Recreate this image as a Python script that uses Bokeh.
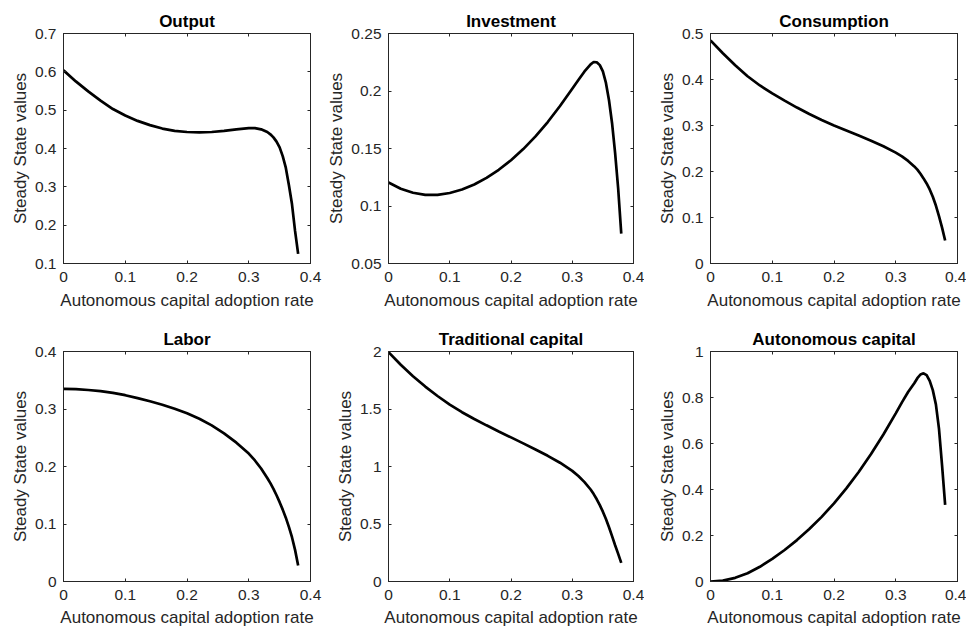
from bokeh.plotting import figure
from bokeh.layouts import row, column
from bokeh.models import Range1d, FixedTicker, LinearAxis, NumeralTickFormatter
from bokeh.embed import file_html
from bokeh.resources import INLINE

# Steady-state values against the autonomous capital adoption rate
adoption = [0.00, 0.02, 0.04, 0.06, 0.08, 0.10, 0.12, 0.14, 0.16, 0.18,
            0.20, 0.22, 0.24, 0.26, 0.28, 0.30, 0.31, 0.32, 0.33, 0.335,
            0.34, 0.345, 0.35, 0.355, 0.36, 0.365, 0.37, 0.375, 0.38]

output = [0.604, 0.575, 0.549, 0.525, 0.503, 0.486, 0.472, 0.461, 0.452, 0.446,
          0.443, 0.442, 0.443, 0.446, 0.450, 0.453, 0.453, 0.450, 0.443, 0.437,
          0.429, 0.418, 0.403, 0.380, 0.350, 0.305, 0.255, 0.185, 0.125]

investment = [0.1205, 0.1150, 0.1115, 0.1097, 0.1097, 0.1113, 0.1143, 0.1187, 0.1245, 0.1315,
              0.1398, 0.1495, 0.1605, 0.1730, 0.1870, 0.2020, 0.2095, 0.2170, 0.2232, 0.2252,
              0.2250, 0.2225, 0.2170, 0.2070, 0.1920, 0.1720, 0.1460, 0.1150, 0.0760]

consumption = [0.485, 0.457, 0.431, 0.407, 0.387, 0.370, 0.354, 0.339, 0.325, 0.312,
               0.300, 0.289, 0.278, 0.267, 0.255, 0.241, 0.233, 0.223, 0.211, 0.204,
               0.195, 0.185, 0.174, 0.161, 0.145, 0.126, 0.103, 0.078, 0.050]

labor = [0.335, 0.3345, 0.333, 0.331, 0.328, 0.324, 0.319, 0.3135, 0.3075, 0.3005,
         0.2925, 0.2830, 0.2715, 0.2575, 0.2415, 0.2225, 0.2105, 0.1965, 0.1800, 0.1710,
         0.1610, 0.1500, 0.1380, 0.1250, 0.1110, 0.0950, 0.0770, 0.0550, 0.0280]

traditional_capital = [1.995, 1.885, 1.785, 1.695, 1.613, 1.538, 1.472, 1.413, 1.358, 1.305,
                       1.253, 1.201, 1.148, 1.093, 1.033, 0.962, 0.917, 0.864, 0.800, 0.760,
                       0.715, 0.664, 0.607, 0.543, 0.472, 0.395, 0.315, 0.240, 0.162]

autonomous_capital = [0.000, 0.004, 0.016, 0.036, 0.064, 0.098, 0.137, 0.180, 0.228, 0.281,
                      0.340, 0.405, 0.476, 0.554, 0.639, 0.731, 0.779, 0.824, 0.862, 0.884,
                      0.900, 0.905, 0.897, 0.872, 0.832, 0.770, 0.665, 0.505, 0.333]

titles = ["Output", "Investment", "Consumption",
          "Labor", "Traditional capital", "Autonomous capital"]
series = [output, investment, consumption, labor, traditional_capital, autonomous_capital]

x_ticks = [0, 0.1, 0.2, 0.3, 0.4]
y_limits = [(0.1, 0.7), (0.05, 0.25), (0, 0.5), (0, 0.4), (0, 2), (0, 1)]
y_ticks = [[0.1, 0.2, 0.3, 0.4, 0.5, 0.6, 0.7],
           [0.05, 0.1, 0.15, 0.2, 0.25],
           [0, 0.1, 0.2, 0.3, 0.4, 0.5],
           [0, 0.1, 0.2, 0.3, 0.4],
           [0, 0.5, 1, 1.5, 2],
           [0, 0.2, 0.4, 0.6, 0.8, 1]]

x_label = "Autonomous capital adoption rate"
y_label = "Steady State values"

FONT = "Liberation Sans"
AXIS_COLOR = "#262626"

CELL_W, CELL_H = 322, 315
# borders per column (left, right) and per row (top, bottom)
col_borders = [(63, 12), (66, 11), (66, 9)]
row_borders = [(33, 52), (36, 49)]
# x tick-label / x axis-label standoffs per row
row_standoffs = [(8, 6), (8, 5)]


def box_axis(p, ticks, side):
    # tick marks only, on the top and right edges of the box
    ax = LinearAxis(ticker=FixedTicker(ticks=ticks),
                    major_label_text_font_size="1px", major_label_text_color=None,
                    major_label_standoff=0, axis_label_standoff=0,
                    major_tick_in=3, major_tick_out=0,
                    minor_tick_in=0, minor_tick_out=0,
                    axis_line_color=AXIS_COLOR, major_tick_line_color=AXIS_COLOR,
                    axis_line_width=1)
    p.add_layout(ax, side)


def make_panel(i):
    r, c = divmod(i, 3)
    lo, hi = y_limits[i]
    p = figure(width=CELL_W, height=CELL_H, output_backend="svg",
               toolbar_location=None, tools="",
               x_range=Range1d(0, 0.4), y_range=Range1d(lo, hi),
               min_border_left=col_borders[c][0], min_border_right=col_borders[c][1],
               min_border_top=row_borders[r][0], min_border_bottom=row_borders[r][1],
               background_fill_color="white", border_fill_color="white")
    p.outline_line_color = AXIS_COLOR
    p.grid.visible = False

    p.title.text = titles[i]
    p.title.align = "center"
    p.title.text_font = FONT
    p.title.text_font_size = "17px"
    p.title.text_font_style = "bold"
    p.title.text_color = "black"
    p.title.standoff = 5

    for ax, ticks in ((p.xaxis[0], x_ticks), (p.yaxis[0], y_ticks[i])):
        ax.ticker = FixedTicker(ticks=ticks)
        ax.formatter = NumeralTickFormatter(format="0.[00]")
        ax.major_tick_in = 3
        ax.major_tick_out = 0
        ax.minor_tick_in = 0
        ax.minor_tick_out = 0
        ax.axis_line_color = AXIS_COLOR
        ax.major_tick_line_color = AXIS_COLOR
        ax.major_label_text_font = FONT
        ax.major_label_text_font_size = "15.5px"
        ax.major_label_text_color = AXIS_COLOR
        ax.axis_label_text_font = FONT
        ax.axis_label_text_font_size = "17px"
        ax.axis_label_text_font_style = "normal"
        ax.axis_label_text_color = AXIS_COLOR
    p.xaxis[0].axis_label = x_label
    p.xaxis[0].major_label_standoff = row_standoffs[r][0]
    p.xaxis[0].axis_label_standoff = row_standoffs[r][1]
    p.yaxis[0].axis_label = y_label
    p.yaxis[0].major_label_standoff = 7
    p.yaxis[0].axis_label_standoff = 2

    box_axis(p, x_ticks, "above")
    box_axis(p, y_ticks[i], "right")

    p.line(adoption, series[i], line_color="black", line_width=2.7)
    return p


panels = [make_panel(i) for i in range(6)]
layout = column(row(*panels[:3]), row(*panels[3:]))

open("out.html", "w").write(file_html(layout, INLINE))
